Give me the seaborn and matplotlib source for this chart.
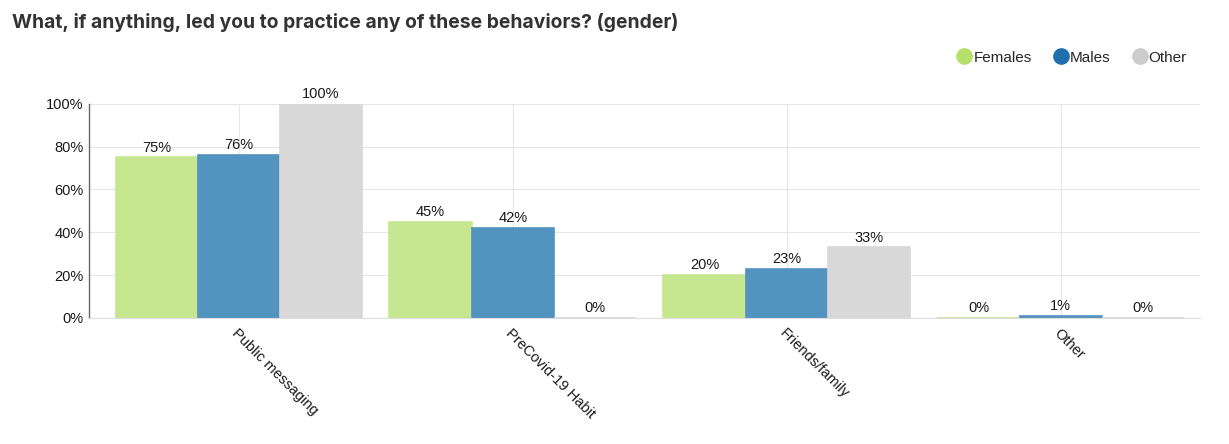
import pandas as pd
import matplotlib.pyplot as plt
import seaborn as sns

# Survey answers, percent by gender
reasons = ['Public messaging', 'PreCovid-19 Habit', 'Friends/family', 'Other']
females = [75, 45, 20, 0]
males = [76, 42, 23, 1]
other = [100, 0, 33, 0]
groups = ['Females', 'Males', 'Other']

df = pd.DataFrame({
    'Reason': reasons * 3,
    'Gender': ['Females'] * 4 + ['Males'] * 4 + ['Other'] * 4,
    'Percent': females + males + other,
})

bar_colors = {'Females': '#c6e790', 'Males': '#5393c0', 'Other': '#d8d8d8'}
dot_colors = {'Females': '#b5e06b', 'Males': '#1f6eae', 'Other': '#cccccc'}

sns.set_style('white')
plt.rcParams['font.family'] = ['Liberation Sans', 'DejaVu Sans']

fig = plt.figure(figsize=(12.29, 4.44), dpi=100)
ax = fig.add_axes([0.0724, 0.284, 0.9036, 0.482])

sns.barplot(data=df, x='Reason', y='Percent', hue='Gender', hue_order=groups,
            palette=bar_colors, width=0.9, gap=0, ax=ax, legend=False,
            errorbar=None, saturation=1, linewidth=1.2)
# edge in the bar colour so the 0% bars still show as a thin line
for cont, g in zip(ax.containers, groups):
    for b in cont:
        b.set_edgecolor(bar_colors[g])
    ax.bar_label(cont, labels=[f'{v:.0f}%' for v in cont.datavalues],
                 padding=2, fontsize=10.5, color='#1a1a1a')

ax.set_xlim(-0.547, 3.507)
ax.set_ylim(0, 100)
ax.set_yticks([0, 20, 40, 60, 80, 100])
ax.set_yticklabels([f'{t}%' for t in [0, 20, 40, 60, 80, 100]], fontsize=10.5, color='#1a1a1a')
ax.set_xticks(range(len(reasons)))
ax.set_xticklabels(reasons, rotation=-45, ha='left', rotation_mode='anchor',
                   fontsize=10.5, color='#1a1a1a')
ax.tick_params(axis='x', length=0, pad=6)
ax.tick_params(axis='y', length=0, pad=4)
ax.set_xlabel('')
ax.set_ylabel('')

ax.grid(True, color='#e6e6e6', linewidth=0.8)
ax.set_axisbelow(True)
for s in ['top', 'right']:
    ax.spines[s].set_visible(False)
ax.spines['left'].set_color('#666666')
ax.spines['left'].set_linewidth(1)
ax.spines['bottom'].set_color('#dddddd')

# legend with round markers, top right
handles = [plt.Line2D([], [], marker='o', linestyle='', markersize=11,
                      markerfacecolor=dot_colors[g], markeredgecolor=dot_colors[g])
           for g in groups]
fig.legend(handles, groups, loc='center right', bbox_to_anchor=(0.977, 0.87),
           ncol=3, frameon=False, fontsize=11, handletextpad=0.0,
           columnspacing=1.3, handlelength=1.2)

fig.text(0.0098, 0.95, 'What, if anything, led you to practice any of these behaviors? (gender)',
         fontsize=13.9, fontweight='bold', color='#333333', va='center',
         family=['Inter', 'DejaVu Sans'])

fig.savefig('out.png', dpi=100)
